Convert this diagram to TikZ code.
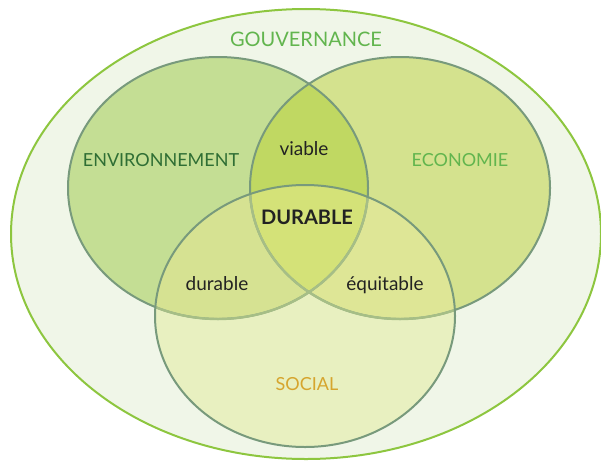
\documentclass[tikz,border=0pt]{standalone}
\usepackage{fontspec}
\setmainfont{Lato}
\usepackage{tikz}

\definecolor{govfill}{HTML}{F0F6E8}
\definecolor{govedge}{HTML}{8DC63F}
\definecolor{envfill}{HTML}{C4DE94}
\definecolor{ecofill}{HTML}{D4E28E}
\definecolor{socfill}{HTML}{E8F0C0}
\definecolor{viafill}{HTML}{C0D862}
\definecolor{durfill}{HTML}{D6E292}
\definecolor{equfill}{HTML}{DEE696}
\definecolor{centfill}{HTML}{D4E278}
\definecolor{setedge}{HTML}{789A7C}
\definecolor{setfaint}{HTML}{A6BE86}
\definecolor{govtext}{HTML}{62B54E}
\definecolor{envtext}{HTML}{2F6E34}
\definecolor{soctext}{HTML}{D6A52E}
\definecolor{darktext}{HTML}{222222}

\newcommand{\govcircle}{(306,234) ellipse [x radius=295pt, y radius=225pt]}
\newcommand{\envcircle}{(218,188) ellipse [x radius=150pt, y radius=131pt]}
\newcommand{\ecocircle}{(400,188) ellipse [x radius=150pt, y radius=131pt]}
\newcommand{\soccircle}{(305,316) ellipse [x radius=150pt, y radius=131pt]}

\begin{document}
\begin{tikzpicture}[
x=1pt, y=-1pt,
setline/.style={draw=setedge, line width=2pt},
faintline/.style={draw=setfaint, line width=2.4pt},
setlabel/.style={anchor=base, font=\fontsize{18}{20}\selectfont},
zonelabel/.style={anchor=base, text=darktext, font=\fontsize{19}{22}\selectfont}
]
\useasboundingbox (0,0) rectangle (601,460);

%Gouvernance
\fill[govfill] \govcircle;
\draw[govedge, line width=2pt] \govcircle;

%Sets
\fill[envfill] \envcircle;
\fill[ecofill] \ecocircle;
\fill[socfill] \soccircle;

%Overlaps
\begin{scope}
\clip \ecocircle;
\fill[equfill] \soccircle;
\end{scope}
\begin{scope}
\clip \envcircle;
\fill[viafill] \ecocircle;
\fill[durfill] \soccircle;
\clip \ecocircle;
\fill[centfill] \soccircle;
\end{scope}

%Outlines
\draw[setline] \envcircle;
\draw[setline] \ecocircle;
\begin{scope}
\clip \soccircle;
\draw[faintline] \envcircle;
\draw[faintline] \ecocircle;
\end{scope}
\draw[setline] \soccircle;

%Labels
\node[setlabel, text=govtext, font=\fontsize{20}{22}\selectfont] (gouv) at (306,46.7) {GOUVERNANCE};
\node[setlabel, text=envtext] (env) at (161,166.7) {ENVIRONNEMENT};
\node[setlabel, text=govtext] (eco) at (460,166.7) {ECONOMIE};
\node[setlabel, text=soctext] (soc) at (307,390) {SOCIAL};
\node[zonelabel] (via) at (304,155) {viable};
\node[zonelabel, font=\bfseries\fontsize{20}{22}\selectfont] (dur) at (307,224) {DURABLE};
\node[zonelabel] (durl) at (217,290) {durable};
\node[zonelabel] (equ) at (385,290) {équitable};
\end{tikzpicture}
\end{document}
